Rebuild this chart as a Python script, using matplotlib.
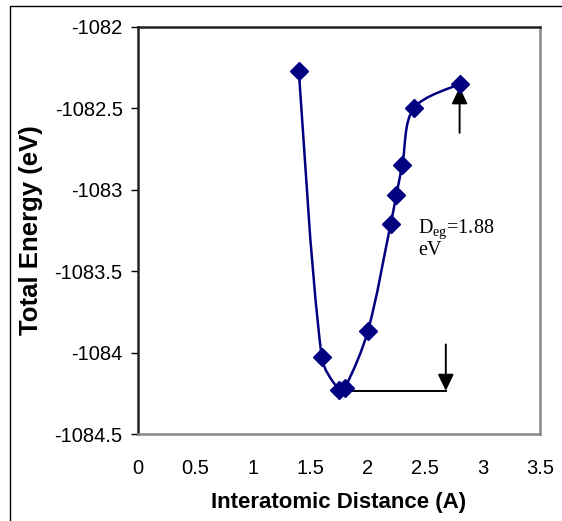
import numpy as np
import matplotlib
matplotlib.use("Agg")
from matplotlib import pyplot as plt
from matplotlib.path import Path
from matplotlib.patches import PathPatch, Rectangle

# values
distance = [1.40, 1.60, 1.75, 1.80, 2.00, 2.20, 2.25, 2.30, 2.40, 2.80]
energy = [-1082.27, -1084.03, -1084.23, -1084.22, -1083.87,
          -1083.21, -1083.03, -1082.85, -1082.50, -1082.35]
x_ticks = [0, 0.5, 1, 1.5, 2, 2.5, 3, 3.5]
y_ticks = [-1084.5, -1084, -1083.5, -1083, -1082.5, -1082]
y_tick_labels = ["-1084.5", "-1084", "-1083.5", "-1083", "-1082.5", "-1082"]
x_tick_labels = ["0", "0.5", "1", "1.5", "2", "2.5", "3", "3.5"]

NAVY = "#000080"
XLIM = (0, 3.5)
YLIM = (-1084.5, -1082)
AX_W_PX, AX_H_PX = 402, 407


def smooth_path(xs, ys):
    # Excel-like smoothed line: cubic Bezier with tangents weighted by
    # on-screen segment lengths so short segments don't overshoot
    pts = np.column_stack([xs, ys]).astype(float)
    scale = np.array([AX_W_PX / (XLIM[1] - XLIM[0]), AX_H_PX / (YLIM[1] - YLIM[0])])
    n = len(pts)

    def dist(a, b):
        return np.hypot(*((pts[a] - pts[b]) * scale))

    verts = [pts[0]]
    codes = [Path.MOVETO]
    for i in range(n - 1):
        p0 = max(i - 1, 0)
        p3 = min(i + 2, n - 1)
        d01, d12, d23 = dist(p0, i), dist(i, i + 1), dist(i + 1, p3)
        w1 = d12 / (d01 + d12) if d01 > 0 else 0.5
        w2 = d12 / (d12 + d23) if d23 > 0 else 0.5
        c1 = pts[i] + (pts[i + 1] - pts[p0]) * w1 / 3.0
        c2 = pts[i + 1] - (pts[p3] - pts[i]) * w2 / 3.0
        verts += [c1, c2, pts[i + 1]]
        codes += [Path.CURVE4] * 3
    return Path(verts, codes)


fig = plt.figure(figsize=(5.62, 5.21), dpi=100)
plt.rcParams["font.family"] = ["Liberation Sans", "DejaVu Sans"]
plt.rcParams["mathtext.fontset"] = "custom"
plt.rcParams["mathtext.rm"] = "Liberation Serif"

# outer frame of the pasted picture
fig.patches.append(Rectangle((10 / 562, -0.1), 1.2, 1.1 - 6 / 521,
                             transform=fig.transFigure, fill=False,
                             edgecolor="black", linewidth=1.0))

ax = fig.add_axes([138 / 562, 1 - 434 / 521, AX_W_PX / 562, AX_H_PX / 521])

ax.add_patch(PathPatch(smooth_path(distance, energy), facecolor="none",
                       edgecolor=NAVY, linewidth=1.8, zorder=3))
ax.plot(distance, energy, linestyle="none", marker="D", markersize=9.5,
        color=NAVY, zorder=4)

# D_eg annotation: horizontal line from the minimum plus two arrows
x_min = 1.77
e_min = -1084.235
ax.plot([x_min, 2.68], [e_min, e_min], color="black", linewidth=1.4, zorder=2)
arrow_style = dict(arrowstyle="-|>,head_length=1.0,head_width=0.48",
                   color="black", linewidth=1.4, shrinkA=0, shrinkB=0)
ax.annotate("", xy=(2.68, e_min), xytext=(2.68, -1083.95), arrowprops=arrow_style)
ax.annotate("", xy=(2.80, -1082.37), xytext=(2.80, -1082.65), arrowprops=arrow_style)
ax.text(2.44, -1083.17, "D$_{\\rm eg}$=1.88\neV", fontsize=14.5,
        family=["Liberation Serif", "DejaVu Serif"], va="top", ha="left",
        linespacing=1.0)

ax.set_xlim(*XLIM)
ax.set_ylim(*YLIM)
ax.set_xticks(x_ticks)
ax.set_xticklabels(x_tick_labels)
ax.set_yticks(y_ticks)
ax.set_yticklabels(y_tick_labels)
ax.tick_params(axis="x", length=0, labelsize=14.5, pad=18)
ax.tick_params(axis="y", length=5, width=1, direction="out", labelsize=14.5, pad=6)

ax.spines["top"].set_color("#222222")
ax.spines["left"].set_color("#222222")
ax.spines["right"].set_color("#888888")
ax.spines["bottom"].set_color("#888888")
for s in ax.spines.values():
    s.set_linewidth(1.8)

ax.set_xlabel("Interatomic Distance (A)", fontsize=16, fontweight="bold", labelpad=10)
ax.set_ylabel("Total Energy (eV)", fontsize=18.5, fontweight="bold", labelpad=8)

fig.savefig("out.png", dpi=100)
